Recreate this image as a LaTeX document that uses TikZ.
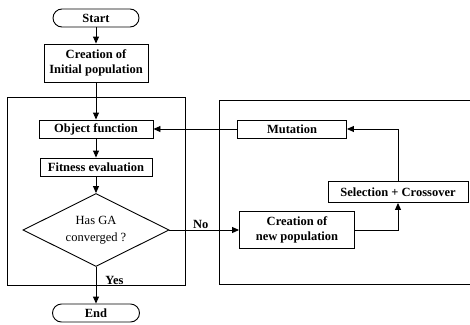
\documentclass[tikz,border=0pt]{standalone}
\usepackage{fontspec}
\setmainfont{Liberation Serif}
\usetikzlibrary{shapes.geometric, arrows.meta, backgrounds}
\tikzset{
    font=\fontsize{12.5}{15}\selectfont\bfseries,
    >={Triangle[length=7pt, width=6pt]},
    % Shapes
    proc/.style={rectangle, draw, line width=0.9pt, align=center,
                 inner sep=1pt, minimum height=18pt},
    term/.style={rectangle, draw, line width=0.9pt, rounded corners=9pt,
                 inner sep=1pt, minimum height=18pt},
    test/.style={diamond, draw, line width=0.9pt, aspect=2, align=center,
                 inner sep=0pt, font=\fontsize{12.5}{17}\selectfont},
    group/.style={rectangle, draw, line width=0.9pt},
    % Flow & Labels
    flow/.style={->, line width=0.9pt},
    lbl/.style={inner sep=1pt}
}

\begin{document}
\begin{tikzpicture}[x=1pt, y=-1pt]
\useasboundingbox (0,0) rectangle (470,324);

% main column
\node[term, minimum width=86pt] (start) at (96,18) {Start};
\node[proc, minimum width=104pt, minimum height=38pt] (init) at (96,63) {Creation of\\Initial population};
\node[proc, minimum width=114pt] (obj) at (96,129) {Object function};
\node[proc, minimum width=112pt] (fit) at (96,167) {Fitness evaluation};
\node[test, minimum width=146pt, minimum height=73pt] (conv) at (96,230) {Has GA\\converged ?};
\node[term, minimum width=87pt] (end) at (96,313) {End};

% GA loop
\node[proc, minimum width=109pt] (mut) at (292,129) {Mutation};
\node[proc, minimum width=140pt, minimum height=21pt] (sel) at (398,192) {Selection + Crossover};
\node[proc, minimum width=115pt, minimum height=37pt] (newpop) at (297,230) {Creation of\\new population};

\draw[flow] (start) -- (init);
\draw[flow] (init) -- (obj);
\draw[flow] (obj) -- (fit);
\draw[flow] (fit) -- (conv);
\draw[flow] (conv) -- node[lbl, right, pos=0.36, xshift=8pt] {Yes} (end);
\draw[flow] (conv) -- node[lbl, above, pos=0.45] {No} (newpop);
\draw[flow] (newpop) -| (sel);
\draw[flow] (sel) |- (mut);
\draw[flow] (mut) -- (obj);

\begin{scope}[on background layer]
    \node[group, minimum width=178pt, minimum height=188pt] (leftgrp) at (96,191) {};
    \draw[group] (470,100) -- (219,100) -- (219,284) -- (470,284);
\end{scope}

\end{tikzpicture}
\end{document}
